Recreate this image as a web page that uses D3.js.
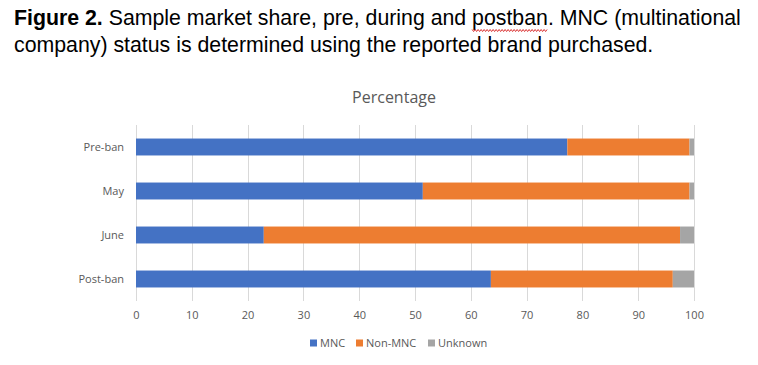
<!DOCTYPE html>
<html>
<head>
<meta charset="utf-8">
<script src="https://cdn.jsdelivr.net/npm/d3@7"></script>
<style>
  html, body { margin: 0; padding: 0; background: #fff; }
  svg { display: block; }
</style>
</head>
<body>
<svg id="chart" width="758" height="365"></svg>
<script>
const categories = ["Pre-ban", "May", "June", "Post-ban"];
const seriesNames = ["MNC", "Non-MNC", "Unknown"];
const mncValues = [77.3, 51.4, 22.9, 63.6];
const nonMncValues = [21.9, 47.8, 74.6, 32.6];
const unknownValues = [0.8, 0.8, 2.5, 3.8];
const xTicks = [0, 10, 20, 30, 40, 50, 60, 70, 80, 90, 100];
const chartTitle = "Percentage";
const captionBold = "Figure 2.";
const captionLine1 = " Sample market share, pre, during and postban. MNC (multinational";
const captionLine2 = "company) status is determined using the reported brand purchased.";

(function () {
const colors = { "MNC": "#4472C4", "Non-MNC": "#ED7D31", "Unknown": "#A5A5A5" };
const font = "'Open Sans', 'Noto Sans', sans-serif";
const capFont = "'Liberation Sans', Arial, sans-serif";

const svg = d3.select("#chart");
const pLeft = 136, pRight = 694, pTop = 125, pBottom = 301;

// caption
const cap1 = svg.append("text").attr("x", 14).attr("y", 25)
  .attr("font-family", capFont).attr("font-size", 21.3).attr("fill", "#000")
  .attr("xml:space", "preserve").style("white-space", "pre");
cap1.append("tspan").attr("font-weight", "bold").text(captionBold);
cap1.append("tspan").text(captionLine1);
svg.append("text").attr("x", 14).attr("y", 52)
  .attr("font-family", capFont).attr("font-size", 21.3).attr("fill", "#000")
  .text(captionLine2);

// wavy spelling underline under "postban"
const full = captionBold + captionLine1;
const idx = full.indexOf("postban");
const node = cap1.node();
const sx = node.getStartPositionOfChar(idx).x;
const ex = node.getEndPositionOfChar(idx + 6).x;
const wy = 30.5;
const pts = [];
for (let px = sx, k = 0; px <= ex; px += 1.5, k++) pts.push([px, wy + (k % 2 ? 1 : -1)]);
svg.append("path").attr("d", d3.line()(pts)).attr("fill", "none")
  .attr("stroke", "#d00000").attr("stroke-width", 0.8);

const x = d3.scaleLinear().domain([0, 100]).range([pLeft, pRight]);
const y = d3.scaleBand().domain(categories).range([pTop, pBottom]).paddingInner(0.615).paddingOuter(0.3075);

const rows = categories.map((c, i) => ({ cat: c, "MNC": mncValues[i], "Non-MNC": nonMncValues[i], "Unknown": unknownValues[i] }));
const stacked = d3.stack().keys(seriesNames)(rows);

// gridlines
svg.append("g").selectAll("line").data(xTicks).join("line")
  .attr("x1", d => Math.round(x(d)) + 0.5).attr("x2", d => Math.round(x(d)) + 0.5)
  .attr("y1", pTop).attr("y2", pBottom)
  .attr("stroke", "#D9D9D9").attr("stroke-width", 1);

// bars
svg.append("g").selectAll("g").data(stacked).join("g")
  .attr("fill", d => colors[d.key])
  .selectAll("rect").data(d => d).join("rect")
  .attr("x", d => x(d[0]))
  .attr("width", d => x(d[1]) - x(d[0]))
  .attr("y", d => y(d.data.cat))
  .attr("height", y.bandwidth());

// x axis labels
const xAxis = d3.axisBottom(x).tickValues(xTicks).tickSize(0).tickPadding(0);
const gx = svg.append("g").attr("transform", `translate(0,${pBottom + 10})`).call(xAxis);
gx.select(".domain").remove();
gx.selectAll("text").attr("font-family", font).attr("font-size", 11).attr("fill", "#595959").attr("dy", "0.71em");

// y axis labels
const yAxis = d3.axisLeft(y).tickSize(0).tickPadding(0);
const gy = svg.append("g").attr("transform", `translate(${pLeft - 12},0)`).call(yAxis);
gy.select(".domain").remove();
gy.selectAll("text").attr("font-family", font).attr("font-size", 11).attr("fill", "#595959");

// title
svg.append("text").attr("x", 394).attr("y", 103).attr("text-anchor", "middle")
  .attr("font-family", font).attr("font-size", 16).attr("fill", "#595959").text(chartTitle);

// legend
const legendX = [310, 356, 428];
const lg = svg.append("g").selectAll("g").data(seriesNames).join("g")
  .attr("transform", (d, i) => `translate(${legendX[i]},343)`);
lg.append("rect").attr("x", 0).attr("y", -3.5).attr("width", 7).attr("height", 7).attr("fill", d => colors[d]);
lg.append("text").attr("x", 10).attr("y", 0).attr("dy", "0.35em")
  .attr("font-family", font).attr("font-size", 11).attr("fill", "#595959").text(d => d);
})();
</script>
</body>
</html>
